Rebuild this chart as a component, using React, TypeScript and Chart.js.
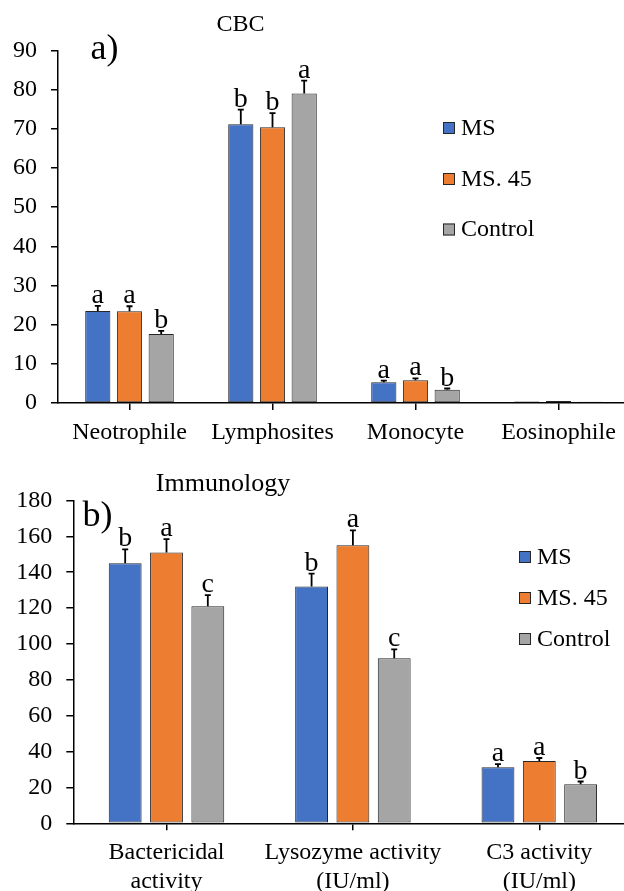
import React, { useEffect, useRef } from "react";
import { Chart, registerables } from "chart.js";

Chart.register(...registerables);

// ---- shared series ----
const SERIES_LABELS = ["MS", "MS. 45", "Control"];
const SERIES_COLORS = ["#4472C4", "#ED7D31", "#A5A5A5"];
const BAR_BORDER = "#262626";
const FONT = "'Liberation Serif', 'Times New Roman', serif";

// ---- panel a) CBC ----
const CBC_CATEGORIES = ["Neotrophile", "Lymphosites", "Monocyte", "Eosinophile"];
const CBC_MS = [23.5, 71.2, 5.3, 0.4];
const CBC_MS45 = [23.4, 70.4, 5.8, 0.5];
const CBC_CONTROL = [17.6, 79.0, 3.4, 0.35];
const CBC_MS_ERR = [1.3, 3.7, 0.4, 0];
const CBC_MS45_ERR = [1.3, 3.6, 0.5, 0];
const CBC_CONTROL_ERR = [0.8, 3.3, 0.3, 0];
const CBC_MS_LETTERS = ["a", "b", "a", ""];
const CBC_MS45_LETTERS = ["a", "b", "a", ""];
const CBC_CONTROL_LETTERS = ["b", "a", "b", ""];
const CBC_Y_MAX = 90;
const CBC_Y_STEP = 10;

// ---- panel b) Immunology ----
const IMM_CATEGORIES = [
  ["Bactericidal", "activity"],
  ["Lysozyme activity", "(IU/ml)"],
  ["C3 activity", "(IU/ml)"],
];
const IMM_MS = [145, 132, 31.3];
const IMM_MS45 = [151, 155, 34.8];
const IMM_CONTROL = [121, 92, 21.8];
const IMM_MS_ERR = [7.8, 7.2, 1.7];
const IMM_MS45_ERR = [7.5, 8.3, 1.6];
const IMM_CONTROL_ERR = [6.2, 5.0, 1.5];
const IMM_MS_LETTERS = ["b", "b", "a"];
const IMM_MS45_LETTERS = ["a", "a", "a"];
const IMM_CONTROL_LETTERS = ["c", "c", "b"];
const IMM_Y_MAX = 180;
const IMM_Y_STEP = 20;

type Series = { values: number[]; err: number[]; letters: string[] };

type Panel = {
  title: string;
  tag: string;
  categories: (string | string[])[];
  series: Series[];
  yMax: number;
  yStep: number;
  canvasTop: number;
  width: number;
  height: number;
  areaLeft: number;
  areaTop: number;
  areaRight: number;
  areaBottom: number;
  titleX: number;
  titleY: number;
  titleSize: number;
  tagX: number;
  tagY: number;
  legendBoxX: number;
  legendY: number[];
};

const PANELS: Panel[] = [
  {
    title: "CBC",
    tag: "a)",
    categories: CBC_CATEGORIES,
    series: [
      { values: CBC_MS, err: CBC_MS_ERR, letters: CBC_MS_LETTERS },
      { values: CBC_MS45, err: CBC_MS45_ERR, letters: CBC_MS45_LETTERS },
      { values: CBC_CONTROL, err: CBC_CONTROL_ERR, letters: CBC_CONTROL_LETTERS },
    ],
    yMax: CBC_Y_MAX,
    yStep: CBC_Y_STEP,
    canvasTop: 0,
    width: 640,
    height: 455,
    areaLeft: 58,
    areaTop: 50.5,
    areaRight: 630,
    areaBottom: 403,
    titleX: 240.5,
    titleY: 30.5,
    titleSize: 24,
    tagX: 90.5,
    tagY: 58.5,
    legendBoxX: 443,
    legendY: [128, 179, 229.5],
  },
  {
    title: "Immunology",
    tag: "b)",
    categories: IMM_CATEGORIES,
    series: [
      { values: IMM_MS, err: IMM_MS_ERR, letters: IMM_MS_LETTERS },
      { values: IMM_MS45, err: IMM_MS45_ERR, letters: IMM_MS45_LETTERS },
      { values: IMM_CONTROL, err: IMM_CONTROL_ERR, letters: IMM_CONTROL_LETTERS },
    ],
    yMax: IMM_Y_MAX,
    yStep: IMM_Y_STEP,
    canvasTop: 455,
    width: 640,
    height: 470,
    areaLeft: 73.3,
    areaTop: 45.5,
    areaRight: 632.5,
    areaBottom: 368.3,
    titleX: 223,
    titleY: 36,
    titleSize: 26,
    tagX: 82.5,
    tagY: 71,
    legendBoxX: 519,
    legendY: [102, 143, 184],
  },
];

function annotations(panel: Panel) {
  return {
    id: "panelAnnotations",
    afterDatasetsDraw(chart: any) {
      const ctx = chart.ctx as CanvasRenderingContext2D;
      const yScale = chart.scales.y;
      ctx.save();
      panel.series.forEach((s, i) => {
        const meta = chart.getDatasetMeta(i);
        meta.data.forEach((bar: any, j: number) => {
          const err = s.err[j];
          const top = yScale.getPixelForValue(s.values[j] + err);
          if (err > 0) {
            ctx.strokeStyle = "#000";
            ctx.lineWidth = 1.8;
            ctx.beginPath();
            ctx.moveTo(bar.x, bar.y);
            ctx.lineTo(bar.x, top);
            ctx.moveTo(bar.x - 3, top);
            ctx.lineTo(bar.x + 3, top);
            ctx.stroke();
          }
          const letter = s.letters[j];
          if (letter) {
            ctx.fillStyle = "#000";
            ctx.font = `28px ${FONT}`;
            ctx.textAlign = "center";
            ctx.textBaseline = "alphabetic";
            ctx.fillText(letter, bar.x, top - 3);
          }
        });
      });
      ctx.restore();
    },
    afterDraw(chart: any) {
      const ctx = chart.ctx as CanvasRenderingContext2D;
      ctx.save();
      ctx.fillStyle = "#000";
      ctx.textBaseline = "alphabetic";
      ctx.textAlign = "center";
      ctx.font = `${panel.titleSize}px ${FONT}`;
      ctx.fillText(panel.title, panel.titleX, panel.titleY);
      ctx.textAlign = "left";
      ctx.font = `36px ${FONT}`;
      ctx.fillText(panel.tag, panel.tagX, panel.tagY);

      // legend
      ctx.font = `24px ${FONT}`;
      ctx.textBaseline = "middle";
      SERIES_LABELS.forEach((label, i) => {
        const cy = panel.legendY[i];
        ctx.fillStyle = SERIES_COLORS[i];
        ctx.fillRect(panel.legendBoxX, cy - 6, 12, 12);
        ctx.strokeStyle = BAR_BORDER;
        ctx.lineWidth = 1;
        ctx.strokeRect(panel.legendBoxX + 0.5, cy - 5.5, 11, 11);
        ctx.fillStyle = "#000";
        ctx.fillText(label, panel.legendBoxX + 18, cy + 0.5);
      });
      ctx.restore();
    },
  };
}

function ChartPanel({ panel }: { panel: Panel }) {
  const ref = useRef<HTMLCanvasElement | null>(null);

  useEffect(() => {
    if (!ref.current) return;
    const tickFont = { family: FONT, size: 24 };
    const chart = new Chart(ref.current, {
      type: "bar",
      data: {
        labels: panel.categories as any,
        datasets: panel.series.map((s, i) => ({
          label: SERIES_LABELS[i],
          data: s.values,
          backgroundColor: SERIES_COLORS[i],
          borderColor: BAR_BORDER,
          borderWidth: 1,
          borderSkipped: false,
          categoryPercentage: 0.665,
          barPercentage: 0.795,
        })),
      },
      options: {
        responsive: false,
        animation: false,
        devicePixelRatio: 1,
        layout: {
          padding: {
            left: 0,
            top: panel.areaTop,
            right: panel.width - panel.areaRight,
            bottom: 0,
          },
        },
        plugins: {
          legend: { display: false },
          title: { display: false },
          tooltip: { enabled: false },
        },
        scales: {
          x: {
            type: "category",
            offset: true,
            grid: {
              offset: false,
              drawOnChartArea: false,
              drawTicks: true,
              tickLength: 7,
              color: "#000",
              lineWidth: 1.5,
            },
            border: { display: true, color: "#000", width: 1.5 },
            ticks: {
              autoSkip: false,
              maxRotation: 0,
              minRotation: 0,
              padding: 8,
              color: "#000",
              font: tickFont,
            },
            afterFit(scale: any) {
              scale.height = panel.height - panel.areaBottom;
            },
          },
          y: {
            min: 0,
            max: panel.yMax,
            grid: {
              drawOnChartArea: false,
              drawTicks: true,
              tickLength: 7,
              color: "#000",
              lineWidth: 1.5,
            },
            border: { display: true, color: "#000", width: 1.5 },
            ticks: {
              stepSize: panel.yStep,
              padding: 14,
              color: "#000",
              font: tickFont,
            },
            afterFit(scale: any) {
              scale.width = panel.areaLeft;
            },
          },
        },
      },
      plugins: [annotations(panel)],
    } as any);
    return () => chart.destroy();
  }, [panel]);

  return (
    <canvas
      ref={ref}
      width={panel.width}
      height={panel.height}
      style={{
        position: "absolute",
        left: 0,
        top: panel.canvasTop,
        width: panel.width,
        height: panel.height,
      }}
    />
  );
}

export default function App() {
  return (
    <div
      style={{
        position: "absolute",
        left: 0,
        top: 0,
        width: 624,
        height: 891,
        overflow: "hidden",
        background: "#fff",
      }}
    >
      {PANELS.map((p) => (
        <ChartPanel key={p.title} panel={p} />
      ))}
    </div>
  );
}
